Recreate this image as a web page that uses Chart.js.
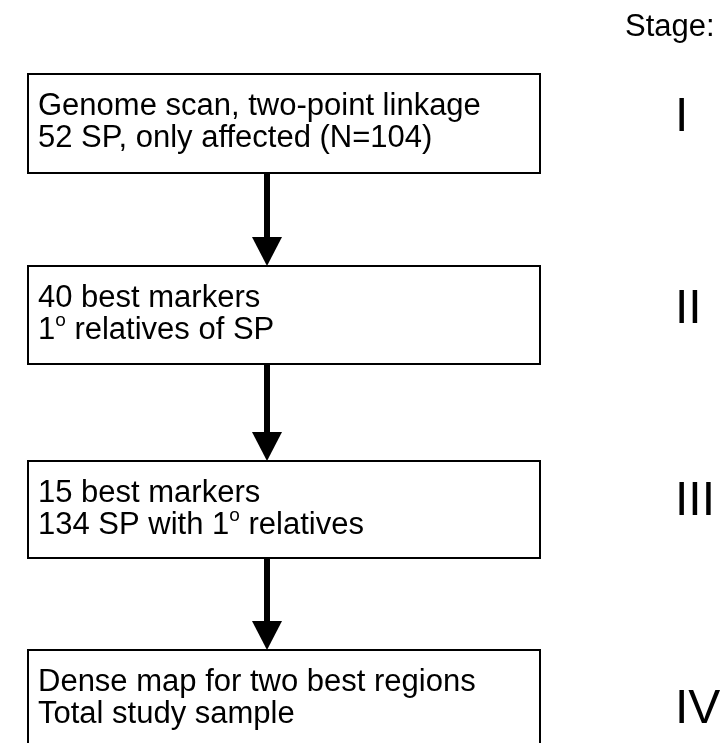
<!DOCTYPE html>
<html><head><meta charset="utf-8">
<script src="https://cdn.jsdelivr.net/npm/chart.js@4/dist/chart.umd.min.js"></script>
<style>html,body{margin:0;padding:0;background:#fff}#wrap{width:720px;height:743px}</style>
</head><body><div id="wrap"><canvas id="c" width="720" height="743"></canvas></div>
<script>
// ---- content ----
const stageTitle = 'Stage:';
const stages = ['I', 'II', 'III', 'IV'];
const boxLine1 = ['Genome scan, two-point linkage', '40 best markers', '15 best markers', 'Dense map for two best regions'];
const boxLine2 = ['52 SP, only affected (N=104)', '1^o relatives of SP', '134 SP with 1^o relatives', 'Total study sample'];

// ---- layout (page coordinates used as scale values) ----
const L = {
  boxLeft: 28, boxRight: 540,
  boxTop: [74, 266, 461, 650],
  boxBottom: [173, 364, 558, 800],
  textX: 38, line1Off: 41, line2Off: 73,
  arrowX: 267, shaftW: 6, headW: 30, headH: 29,
  stageX: 675, stageBase: [131, 323, 515, 723],
  titleX: 625, titleBase: 36,
  font: '"Liberation Sans", Arial, Helvetica, sans-serif',
  textSize: 31, stageSize: 48, supSize: 19, supRaise: 13
};

const flowPlugin = {
  id: 'flow',
  afterDraw(chart) {
    const ctx = chart.ctx, xs = chart.scales.x, ys = chart.scales.y;
    const X = v => xs.getPixelForValue(v), Y = v => ys.getPixelForValue(v);
    ctx.save();
    ctx.fillStyle = '#000'; ctx.strokeStyle = '#000';
    ctx.textBaseline = 'alphabetic'; ctx.textAlign = 'left';
    // boxes
    stages.forEach((s, i) => {
      ctx.lineWidth = 2;
      const x0 = X(L.boxLeft), x1 = X(L.boxRight), y0 = Y(L.boxTop[i]), y1 = Y(L.boxBottom[i]);
      ctx.strokeRect(x0, y0, x1 - x0, y1 - y0);
      // text
      const drawLine = (str, x, y) => {
        const parts = str.split(/(\^.)/);
        parts.forEach(p => {
          if (!p) return;
          if (p[0] === '^') {
            ctx.font = L.supSize + 'px ' + L.font;
            ctx.fillText(p[1], x, y - L.supRaise);
            x += ctx.measureText(p[1]).width;
          } else {
            ctx.font = L.textSize + 'px ' + L.font;
            ctx.fillText(p, x, y);
            x += ctx.measureText(p).width;
          }
        });
      };
      drawLine(boxLine1[i], X(L.textX), Y(L.boxTop[i] + L.line1Off));
      drawLine(boxLine2[i], X(L.textX), Y(L.boxTop[i] + L.line2Off));
      // stage label
      ctx.font = L.stageSize + 'px ' + L.font;
      ctx.fillText(s, X(L.stageX), Y(L.stageBase[i]));
      // arrow to next box
      if (i < stages.length - 1) {
        const ax = X(L.arrowX), yA = Y(L.boxBottom[i]), yT = Y(L.boxTop[i + 1]);
        const yH = yT - L.headH;
        ctx.fillRect(ax - L.shaftW / 2, yA, L.shaftW, yH - yA + 1);
        ctx.beginPath();
        ctx.moveTo(ax - L.headW / 2, yH);
        ctx.lineTo(ax + L.headW / 2, yH);
        ctx.lineTo(ax, yT);
        ctx.closePath(); ctx.fill();
      }
    });
    ctx.font = L.textSize + 'px ' + L.font;
    ctx.fillText(stageTitle, X(L.titleX), Y(L.titleBase));
    ctx.restore();
  }
};

new Chart(document.getElementById('c'), {
  type: 'scatter',
  data: { datasets: [{ data: stages.map((s, i) => ({ x: L.stageX, y: L.stageBase[i] })), pointRadius: 0 }] },
  options: {
    responsive: false, animation: false,
    layout: { padding: 0 },
    plugins: { legend: { display: false }, tooltip: { enabled: false } },
    scales: {
      x: { type: 'linear', min: 0, max: 720, display: false },
      y: { type: 'linear', min: 0, max: 743, reverse: true, display: false }
    }
  },
  plugins: [flowPlugin]
});
</script></body></html>
